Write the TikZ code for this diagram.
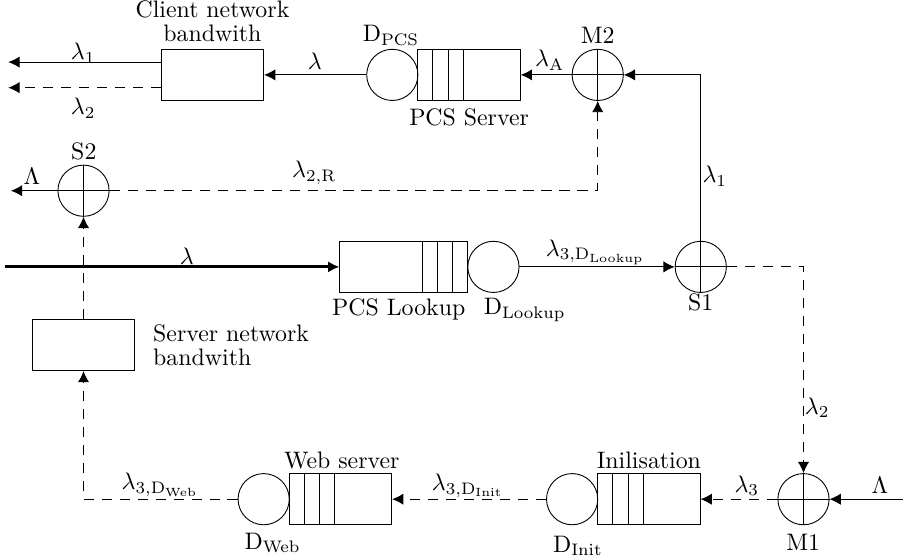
\RequirePackage{fix-cm}
\documentclass[tikz,border=0pt]{standalone}
\usepackage{amsmath,amssymb}
\usepackage{tikz}
\usetikzlibrary{arrows.meta}

\tikzset{
	srv/.style={draw, circle, minimum size=0.8cm, inner sep=0pt},
	queue/.style={draw, rectangle, minimum width=1.6cm, minimum height=0.8cm, inner sep=0pt},
	bwbox/.style={draw, rectangle, minimum width=1.6cm, minimum height=0.8cm, inner sep=0pt},
	flow/.style={-{Latex[length=5pt,width=5pt]}},
	back/.style={dash pattern=on 4.5pt off 3.5pt}
}

\begin{document}
\begin{tikzpicture}[font=\fontsize{10.6}{12.7}\selectfont]
	\useasboundingbox (0,0) rectangle (14.11,-8.734);

	% top row
	\node[bwbox] (client) at (3.32,-1.17) {};
	\node[srv] (dpcs) at (6.13,-1.17) {};
	\node[queue] (pcs) at (7.33,-1.17) {};
	\node[srv] (m2) at (9.34,-1.17) {};

	% middle
	\node[srv] (s2) at (1.305,-2.98) {};
	\node[queue, minimum width=2cm] (lookup) at (6.31,-4.17) {};
	\node[srv] (dlookup) at (7.71,-4.17) {};
	\node[srv] (s1) at (10.95,-4.17) {};
	\node[bwbox] (server) at (1.305,-5.39) {};

	% bottom row
	\node[srv] (dweb) at (4.12,-7.8) {};
	\node[queue] (web) at (5.32,-7.8) {};
	\node[srv] (dinit) at (8.94,-7.8) {};
	\node[queue] (init) at (10.14,-7.8) {};
	\node[srv] (m1) at (12.555,-7.8) {};

	% crosses and queue slots
	\foreach \m in {m1,m2,s1,s2}
		\draw (\m.north) -- (\m.south) (\m.west) -- (\m.east);
	\foreach \q in {pcs,web,init}
		\foreach \d in {0.24,0.48,0.72}
			\draw ([xshift=\d cm]\q.north west) -- ([xshift=\d cm]\q.south west);
	\foreach \d in {0.24,0.48,0.72}
		\draw ([xshift=-\d cm]lookup.north east) -- ([xshift=-\d cm]lookup.south east);

	% free ends
	\coordinate (outa) at (0.13,-0.97);
	\coordinate (outb) at (0.13,-1.37);
	\coordinate (outs) at (0.17,-2.98);
	\coordinate (inl) at (0.08,-4.17);
	\coordinate (inm) at (14.11,-7.8);

	% connectors
	\draw[flow] (client.west |- outa) -- (outa);
	\draw[flow, back] (client.west |- outb) -- (outb);
	\draw[flow] (dpcs.west) -- (client.east);
	\draw[flow] (m2.west) -- (pcs.east);
	\draw[flow] (s1.north) |- (m2.east);
	\draw[flow, back] (s2.east) -| (m2.south);
	\draw[flow] (s2.west) -- (outs);
	\draw[flow, back] (server.north) -- (s2.south);
	\draw[flow, line width=1.4pt] (inl) -- (lookup.west);
	\draw[flow] (dlookup.east) -- (s1.west);
	\draw[flow, back] (s1.east) -| (m1.north);
	\draw[flow] (inm) -- (m1.east);
	\draw[flow, back] (m1.west) -- (init.east);
	\draw[flow, back] (dinit.west) -- (web.east);
	\draw[flow, back] (dweb.west) -| (server.south);

	% labels
	\node (clienttxt) at (3.32,-0.33) {\shortstack{Client network\\bandwith}};
	\node (servertxt) [anchor=west] at (2.27,-5.39) {\shortstack[l]{Server network\\bandwith}};
	\node (la1) at (1.30,-0.83) {$\lambda_1$};
	\node (la2) at (1.30,-1.69) {$\lambda_2$};
	\node (la) at (4.92,-0.95) {$\lambda$};
	\node (dpcstxt) at (6.11,-0.55) {$\mathrm{D}_{\mathrm{PCS}}$};
	\node (pcstxt) at (7.33,-1.84) {PCS Server};
	\node (laa) at (8.59,-0.94) {$\lambda_{\mathrm{A}}$};
	\node (m2txt) at (9.34,-0.55) {M2};
	\node (la1r) at (11.17,-2.75) {$\lambda_1$};
	\node (la2r) at (4.91,-2.70) {$\lambda_{2,\mathrm{R}}$};
	\node (s2txt) at (1.31,-2.37) {S2};
	\node (bigs2) at (0.5,-2.76) {$\Lambda$};
	\node (lain) at (2.92,-4.0) {$\lambda$};
	\node (lookuptxt) at (6.23,-4.84) {PCS Lookup};
	\node (dlookuptxt) at (8.2,-4.84) {$\mathrm{D}_{\mathrm{Lookup}}$};
	\node (la3l) at (9.30,-3.94) {$\lambda_{3,\mathrm{D}_{\mathrm{Lookup}}}$};
	\node (s1txt) at (10.95,-4.73) {S1};
	\node (la2d) at (12.77,-6.37) {$\lambda_2$};
	\node (m1txt) at (12.55,-8.47) {M1};
	\node (bigm1) at (13.75,-7.59) {$\Lambda$};
	\node (la3) at (11.67,-7.59) {$\lambda_3$};
	\node (inittxt) at (10.14,-7.19) {Inilisation};
	\node (dinittxt) at (9.03,-8.53) {$\mathrm{D}_{\mathrm{Init}}$};
	\node (la3i) at (7.31,-7.59) {$\lambda_{3,\mathrm{D}_{\mathrm{Init}}}$};
	\node (webtxt) at (5.34,-7.20) {Web server};
	\node (dwebtxt) at (4.26,-8.48) {$\mathrm{D}_{\mathrm{Web}}$};
	\node (la3w) at (2.5,-7.58) {$\lambda_{3,\mathrm{D}_{\mathrm{Web}}}$};
\end{tikzpicture}
\end{document}
